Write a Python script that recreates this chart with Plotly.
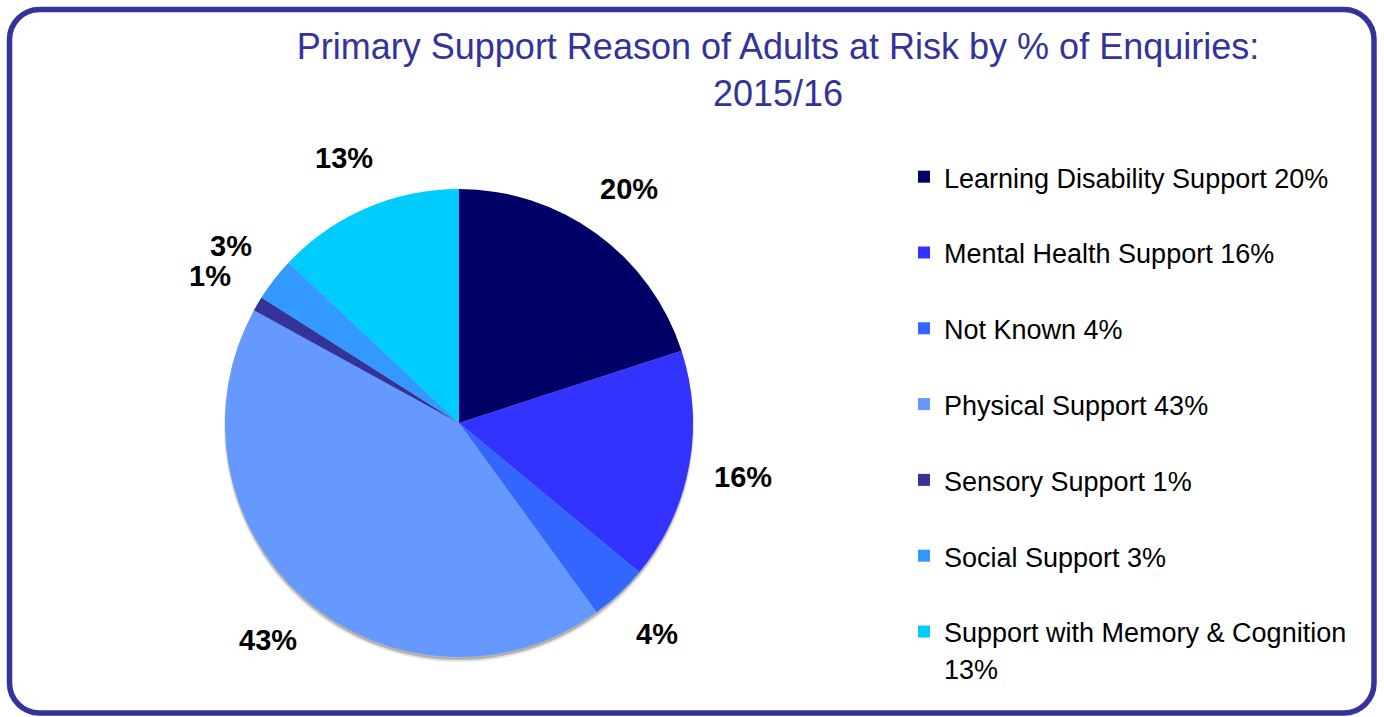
import math
import plotly.graph_objects as go

# Enquiry shares by primary support reason (per cent)
categories = [
    "Learning Disability Support",
    "Mental Health Support",
    "Not Known",
    "Physical Support",
    "Sensory Support",
    "Social Support",
    "Support with Memory & Cognition",
]
shares = [20, 16, 4, 43, 1, 3, 13]
legend_names = [
    "Learning Disability Support 20%",
    "Mental Health Support 16%",
    "Not Known 4%",
    "Physical Support 43%",
    "Sensory Support 1%",
    "Social Support 3%",
    "Support with Memory & Cognition<br>13%",
]
slice_colors = ["#000066", "#3333ff", "#3366ff", "#6699ff", "#333399", "#3399ff", "#00ccff"]

W, H = 1384, 717
CX, CY, R = 459, 423, 234          # pie centre and radius in pixels
LABEL_R = 1.235 * R                # radius at which the percentage labels sit
FRAME = "#333399"


def px(x):
    return x / W


def py(y):
    return 1 - y / H


# Legend entries: one-line names get a blank second line so rows are evenly spaced
legend_text = []
for name in legend_names:
    body = f"<span style='font-size:27px'>{name}</span>"
    if "<br>" not in name:
        body += "<br> "
    legend_text.append(body)

fig = go.Figure()
fig.add_trace(go.Pie(
    labels=legend_text,
    values=shares,
    marker=dict(colors=slice_colors, line=dict(width=0)),
    sort=False,
    direction="clockwise",
    rotation=0,
    textinfo="none",
    hoverinfo="skip",
    domain=dict(x=[px(CX - R), px(CX + R)], y=[py(CY + R), py(CY - R)]),
))

# Percentage labels placed outside each slice at its mid-angle
annotations = []
total = sum(shares)
cum = 0
for v in shares:
    mid = (cum + v / 2) / total
    cum += v
    ang = 2 * math.pi * mid
    lx = CX + LABEL_R * math.sin(ang)
    ly = CY - LABEL_R * math.cos(ang)
    annotations.append(dict(
        x=px(lx), y=py(ly), xref="paper", yref="paper",
        text=f"<b>{v}%</b>", showarrow=False,
        xanchor="center", yanchor="middle",
        font=dict(family="Liberation Sans, Arial, sans-serif", size=29, color="#000000"),
    ))

# Rounded frame around the whole chart
x0, y0, x1, y1, rad = 9.5, 9.5, 1374, 713, 30
k = 0.5523 * rad
frame_path = (
    f"M {px(x0 + rad)},{py(y0)} L {px(x1 - rad)},{py(y0)} "
    f"C {px(x1 - rad + k)},{py(y0)} {px(x1)},{py(y0 + rad - k)} {px(x1)},{py(y0 + rad)} "
    f"L {px(x1)},{py(y1 - rad)} "
    f"C {px(x1)},{py(y1 - rad + k)} {px(x1 - rad + k)},{py(y1)} {px(x1 - rad)},{py(y1)} "
    f"L {px(x0 + rad)},{py(y1)} "
    f"C {px(x0 + rad - k)},{py(y1)} {px(x0)},{py(y1 - rad + k)} {px(x0)},{py(y1 - rad)} "
    f"L {px(x0)},{py(y0 + rad)} "
    f"C {px(x0)},{py(y0 + rad - k)} {px(x0 + rad - k)},{py(y0)} {px(x0 + rad)},{py(y0)} Z"
)

shapes = [
    # soft drop shadow beneath the pie
    dict(type="circle", xref="paper", yref="paper", layer="below",
         x0=px(CX - R - 1), x1=px(CX + R + 1), y0=py(CY + R + 5), y1=py(CY - R + 3),
         fillcolor="rgba(0,0,0,0.10)", line=dict(width=0)),
    dict(type="circle", xref="paper", yref="paper", layer="below",
         x0=px(CX - R), x1=px(CX + R), y0=py(CY + R + 3), y1=py(CY - R + 2),
         fillcolor="rgba(0,0,0,0.22)", line=dict(width=0)),
    dict(type="path", xref="paper", yref="paper", path=frame_path,
         line=dict(color=FRAME, width=5.5), fillcolor="rgba(0,0,0,0)"),
]

fig.update_layout(
    width=W, height=H,
    margin=dict(l=0, r=0, t=0, b=0),
    paper_bgcolor="#ffffff",
    plot_bgcolor="#ffffff",
    font=dict(family="Liberation Sans, Arial, sans-serif", color="#000000"),
    title=dict(
        text="Primary Support Reason of Adults at Risk by % of Enquiries:<br>2015/16",
        x=px(778), xanchor="center", y=py(59), yanchor="top",
        font=dict(family="Liberation Sans, Arial, sans-serif", size=36, color=FRAME),
    ),
    legend=dict(
        x=px(904), xanchor="left", y=py(152), yanchor="top",
        font=dict(size=28, color="#000000"),
        valign="top", bgcolor="rgba(0,0,0,0)", borderwidth=0,
    ),
    showlegend=True,
    annotations=annotations,
    shapes=shapes,
)

fig.write_html("out.html")
